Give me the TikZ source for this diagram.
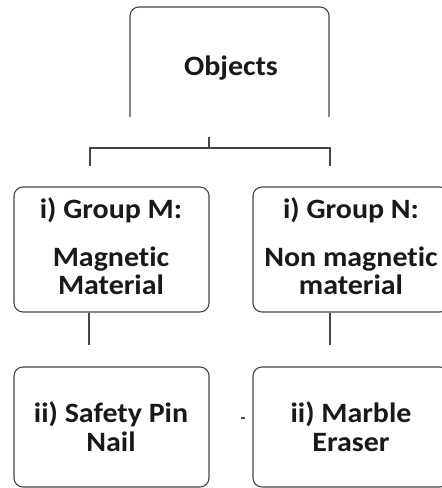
\documentclass[tikz,border=0pt]{standalone}
\usepackage{fontspec}
\setmainfont{Carlito}[Ligatures={NoCommon}, FakeStretch=1.07]
\definecolor{boxc}{RGB}{70,70,70}
\definecolor{txtc}{RGB}{25,25,25}
\begin{document}
\begin{tikzpicture}[x=1pt,y=-1pt,
  box/.style={draw=boxc, line width=1.1pt, rounded corners=9pt},
  lbl/.style={font=\bfseries\fontsize{28}{29}\selectfont, text=txtc, inner sep=0pt, anchor=base},
  conn/.style={draw=boxc, line width=1.8pt}]
\useasboundingbox (0,0) rectangle (442,488);
\clip (0,0) rectangle (442,488);
\fill[white] (0,0) rectangle (442,488);
% top box with open bottom
\coordinate (ob1) at (130,117);
\coordinate (ob2) at (130,7);
\coordinate (ob3) at (329,7);
\coordinate (ob4) at (329,117);
\draw[box] (ob1) -- (ob2) -- (ob3) -- (ob4);
\node[lbl] (tobj) at (231,75) {Objects};
% group boxes
\node[box, minimum width=195pt, minimum height=125pt] (bm) at (111.5,249.5) {};
\node[box, minimum width=196pt, minimum height=125pt] (bn) at (351,249.5) {};
\node[box, minimum width=195pt, minimum height=120pt] (bs) at (111.5,427) {};
\node[box, minimum width=196pt, minimum height=120pt] (br) at (351,427) {};
% texts
\node[lbl] (tm1) at (111,218) {i) Group M:};
\node[lbl] (tm2) at (111,266) {Magnetic};
\node[lbl] (tm3) at (111,294) {Material};
\node[lbl] (tn1) at (351,218) {i) Group N:};
\node[lbl] (tn2) at (351,266) {Non magnetic};
\node[lbl] (tn3) at (351,294) {material};
\node[lbl] (ts1) at (111,422) {ii) Safety Pin};
\node[lbl] (ts2) at (111,451) {Nail};
\node[lbl] (tr1) at (351,422) {ii) Marble};
\node[lbl] (tr2) at (351,451) {Eraser};
% connectors
\coordinate (s0) at (209,137);
\coordinate (s1) at (209,148);
\coordinate (hl) at (90,148);
\coordinate (hr) at (330,148);
\coordinate (dl) at (90,166);
\coordinate (dr) at (330,166);
\draw[conn] (s0) -- (s1);
\draw[conn] (dl) -- (hl) -- (hr) -- (dr);
\coordinate (ml) at (89,345);
\coordinate (nl) at (330,345);
\draw[conn] (bm.south -| ml) -- (ml);
\draw[conn] (bn.south -| nl) -- (nl);
% small mark
\coordinate (d0) at (241,418);
\coordinate (d1) at (245,418);
\draw[boxc, line width=1.5pt] (d0) -- (d1);
\end{tikzpicture}
\end{document}
